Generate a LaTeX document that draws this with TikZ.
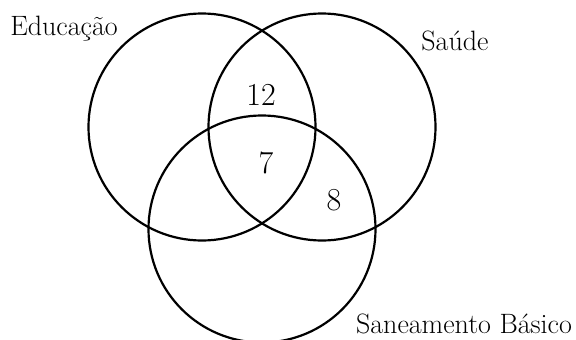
\documentclass[tikz,border=0pt]{standalone}
\usepackage{tikz}
\usetikzlibrary{positioning}

\begin{document}
\begin{tikzpicture}[x=1pt,y=-1pt]
  \tikzstyle{set}=[draw,circle,line width=2.2pt,minimum size=227pt,inner sep=0pt]
  \tikzstyle{setname}=[anchor=base,inner sep=0pt,font=\fontsize{28}{34}\selectfont]
  \tikzstyle{count}=[anchor=base,inner sep=0pt,font=\fontsize{32}{38}\selectfont]
  \useasboundingbox (0,0) rectangle (576,340);
  \node[set] (edu) at (202,127) {};
  \node[set] (sau) at (322,127) {};
  \node[set] (san) at (262,229) {};
  \node[setname] (eduname) at (64,35) {Educação};
  \node[setname] (sauname) at (455,50) {Saúde};
  \node[setname] (sanname) at (464,333) {Saneamento Básico};
  \node[count] (edusau) at (261,105) {12};
  \node[count] (all) at (266,173) {7};
  \node[count] (sausan) at (334,210) {8};
\end{tikzpicture}
\end{document}
